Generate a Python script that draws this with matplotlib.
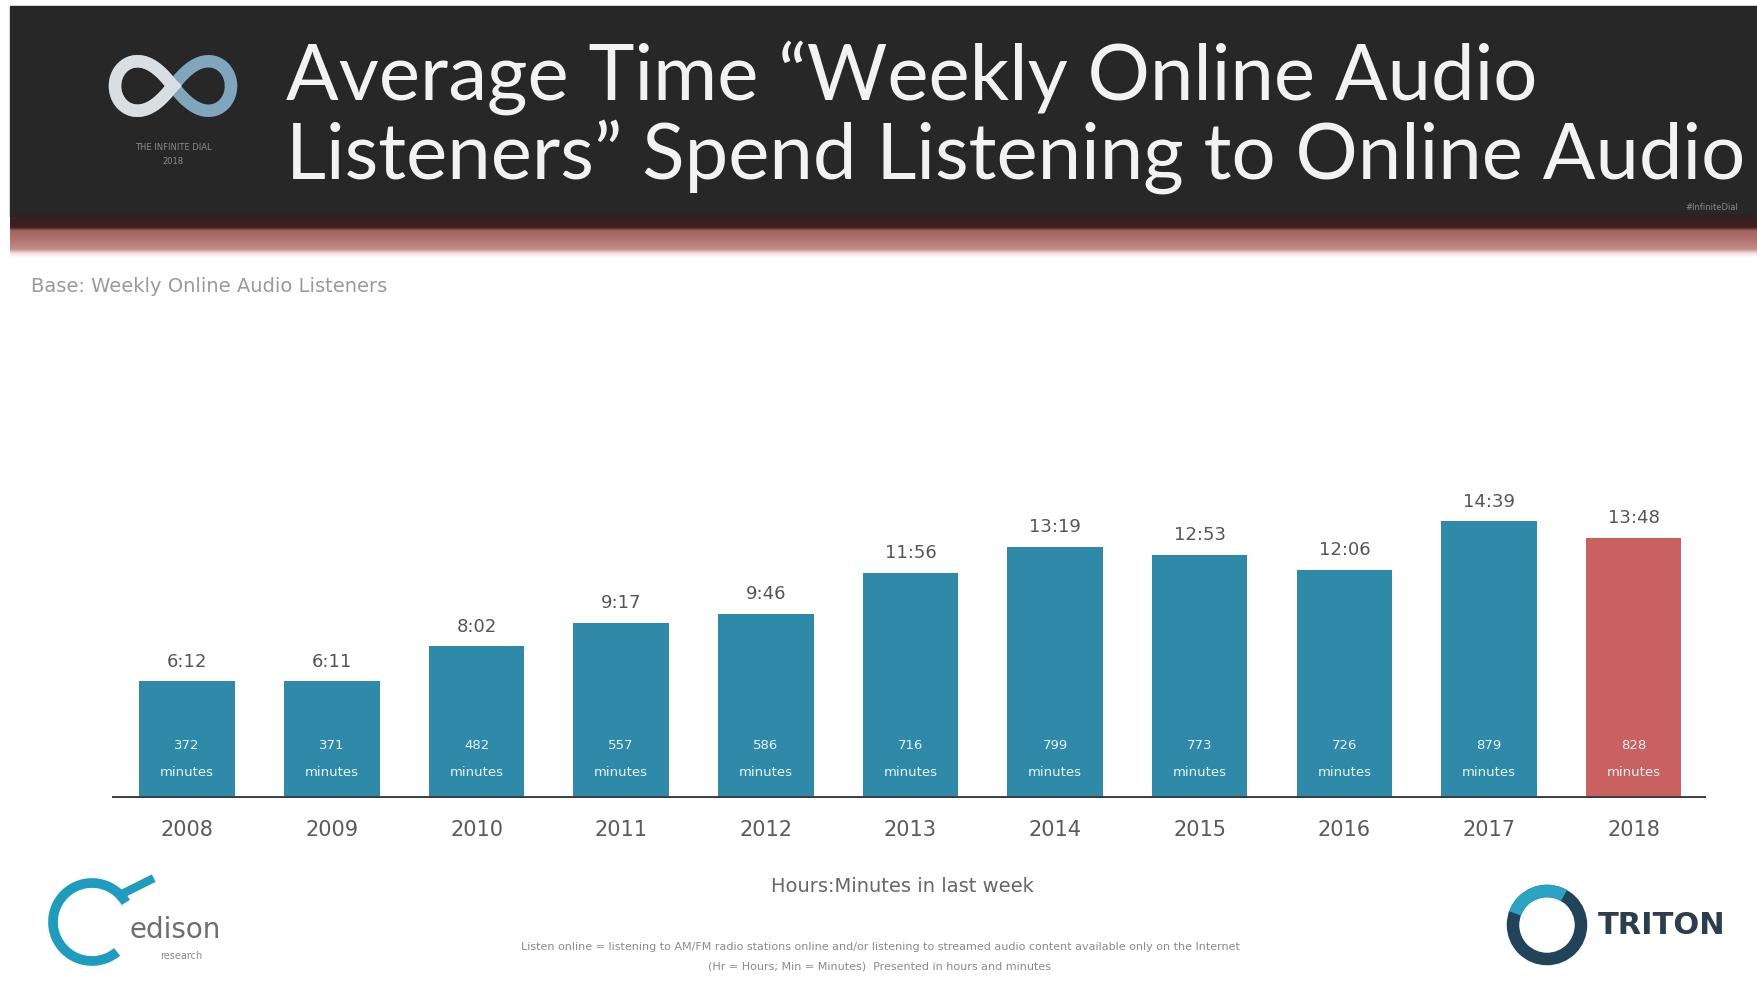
import numpy as np
import matplotlib.pyplot as plt
from matplotlib.patches import Rectangle, Circle, Arc
from matplotlib.colors import LinearSegmentedColormap

# Weekly online audio listening time (hours:minutes), by survey year
years = ['2008', '2009', '2010', '2011', '2012', '2013',
         '2014', '2015', '2016', '2017', '2018']
listen_time = ['6:12', '6:11', '8:02', '9:17', '9:46', '11:56',
               '13:19', '12:53', '12:06', '14:39', '13:48']

title_lines = ['Average Time \u201cWeekly Online Audio',
               'Listeners\u201d Spend Listening to Online Audio']
base_note = 'Base: Weekly Online Audio Listeners'
x_label = 'Hours:Minutes in last week'
footnote = ['Listen online = listening to AM/FM radio stations online and/or listening to streamed audio content available only on the Internet',
            '(Hr = Hours; Min = Minutes)  Presented in hours and minutes']


def to_hours(t):
    h, m = t.split(':')
    return int(h) + int(m) / 60


hours = [to_hours(t) for t in listen_time]
minutes = [int(h) * 60 + int(m) for h, m in (t.split(':') for t in listen_time)]

W, H = 1758, 988
fig = plt.figure(figsize=(W / 100, H / 100), dpi=100)
fig.patch.set_facecolor('white')

# full-figure canvas in pixel units for header, logos and notes
bg = fig.add_axes([0, 0, 1, 1])
bg.set_xlim(0, W)
bg.set_ylim(H, 0)
bg.axis('off')

# dark header band with maroon / red strip underneath
bg.add_patch(Rectangle((10, 6), W - 10, 210, color='#272727', zorder=1))
fade = LinearSegmentedColormap.from_list(
    'fade', [(0, '#2a2424'), (0.1, '#3a2020'), (0.3, '#421f1f'),
             (0.38, '#a66462'), (0.6, '#b37572'), (0.8, '#c18c89'),
             (0.9, '#f3e2e1'), (1, '#ffffff')])
bg.imshow(np.linspace(0, 1, 80)[:, None], cmap=fade, aspect='auto',
          extent=(10, W, 258, 214), origin='upper', zorder=1)
bg.set_xlim(0, W)
bg.set_ylim(H, 0)

# infinity mark
t = np.linspace(0, 2 * np.pi, 400)
lx = 173 + 58 * np.cos(t) / (1 + np.sin(t) ** 2)
ly = 86 + 70 * np.sin(t) * np.cos(t) / (1 + np.sin(t) ** 2)
bg.plot(lx, ly, color='#7fa6bd', lw=9, solid_capstyle='round', zorder=2)
bg.plot(lx[100:300], ly[100:300], color='#d8dee2', lw=9, zorder=3)
bg.text(173, 148, 'THE INFINITE DIAL', ha='center', va='center',
        fontsize=6, color='#8a8a8a', zorder=3)
bg.text(173, 162, '2018', ha='center', va='center',
        fontsize=6, color='#8a8a8a', zorder=3)
bg.text(1738, 207, '#InfiniteDial', ha='right', va='center',
        fontsize=6, color='#8a8a8a', zorder=3)

# title, sized so the second line fills the header
title_objs = []
for y, line in zip([78, 157], title_lines):
    title_objs.append(bg.text(286, y, line, ha='left', va='center',
                              fontsize=50, color='#f2f2f2',
                              family='Lato', zorder=3))
fig.canvas.draw()
renderer = fig.canvas.get_renderer()
w2 = title_objs[1].get_window_extent(renderer).width
size = 50 * 1459 / w2
for txt in title_objs:
    txt.set_fontsize(size)

bg.text(31, 286, base_note, ha='left', va='center', fontsize=14,
        color='#9a9a9a')

# bars
ax = fig.add_axes([112 / W, 190 / H, 1594 / W, 302 / H])
ax.patch.set_alpha(0)
x = np.arange(len(years))
colors = ['#2f8aa9'] * (len(years) - 1) + ['#c8615f']
ax.bar(x, hours, width=0.66, color=colors, zorder=2)
ax.axhline(0, color='#3b3b3b', lw=3.5, zorder=3)
ax.set_xlim(-0.52, 10.5)
ax.set_ylim(0, 16)
for s in ax.spines.values():
    s.set_visible(False)
ax.set_yticks([])
ax.set_xticks(x)
ax.set_xticklabels(years, fontsize=15, color='#5a5a5a')
ax.tick_params(axis='x', length=0, pad=16)

for i, (h, lab, m) in enumerate(zip(hours, listen_time, minutes)):
    ax.text(i, h + 0.55, lab, ha='center', va='bottom', fontsize=13,
            color='#555555')
    ax.text(i, 2.8, f'{m}', ha='center', va='center', fontsize=9.5,
            color='#e8f3f7')
    ax.text(i, 1.35, 'minutes', ha='center', va='center', fontsize=9.5,
            color='#e8f3f7')

bg.text(902, 886, x_label, ha='center', va='center', fontsize=14,
        color='#666666')
bg.text(880, 947, footnote[0], ha='center', va='center', fontsize=8,
        color='#8a8a8a')
bg.text(880, 966, footnote[1], ha='center', va='center', fontsize=8,
        color='#8a8a8a')

# edison research mark
bg.add_patch(Arc((92, 922), 78, 78, theta1=50, theta2=330, lw=7,
                 color='#1e9cc0', zorder=3))
bg.plot([120, 150], [895, 880], color='#1e9cc0', lw=6, zorder=3)
bg.text(130, 930, 'edison', ha='left', va='center', fontsize=20,
        color='#6e6e6e', zorder=4)
bg.text(160, 956, 'research', ha='left', va='center', fontsize=7,
        color='#8a8a8a', zorder=4)

# triton mark
bg.add_patch(Circle((1547, 925), 34, fill=False, lw=9, ec='#21445a', zorder=3))
bg.add_patch(Arc((1547, 925), 68, 68, theta1=200, theta2=300, lw=9,
                 color='#2aa3c4', zorder=4))
bg.text(1598, 925, 'TRITON', ha='left', va='center', fontsize=22,
        fontweight='bold', color='#2c3e4c', zorder=4)

plt.savefig('out.png', dpi=100)
